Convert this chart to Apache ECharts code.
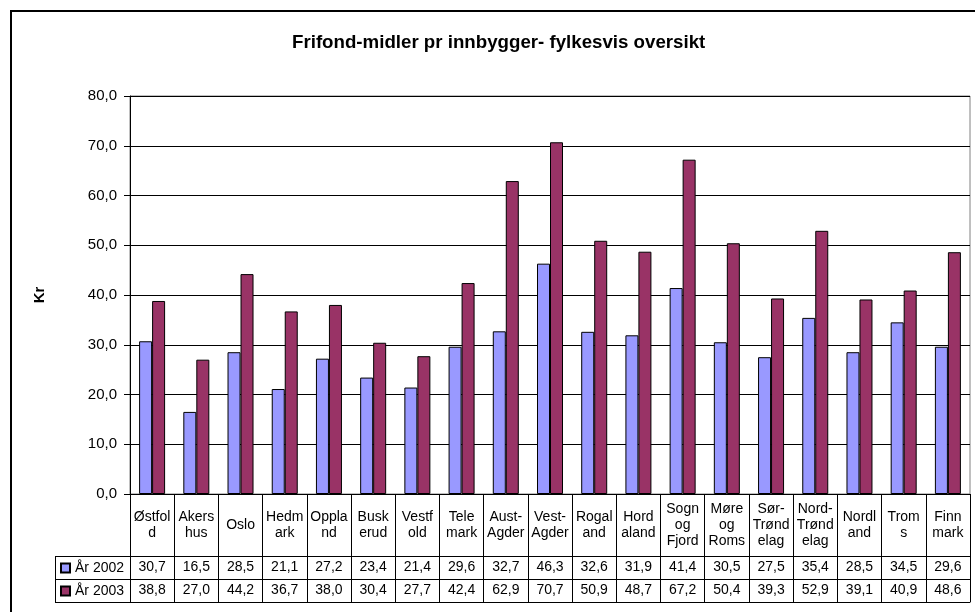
<!DOCTYPE html>
<html>
<head>
<meta charset="utf-8">
<script src="https://cdn.jsdelivr.net/npm/echarts@6/dist/echarts.min.js"></script>
<style>
html,body{margin:0;padding:0;background:#fff;}
#chart{width:975px;height:612px;}
</style>
</head>
<body>
<div id="chart"></div>
<script>
const titleText = 'Frifond-midler pr innbygger- fylkesvis oversikt';
const yAxisName = 'Kr';
const categories = ['Østfol\nd','Akers\nhus','Oslo','Hedm\nark','Oppla\nnd','Busk\nerud','Vestf\nold','Tele\nmark','Aust-\nAgder','Vest-\nAgder','Rogal\nand','Hord\naland','Sogn\nog\nFjord','Møre\nog\nRoms','Sør-\nTrønd\nelag','Nord-\nTrønd\nelag','Nordl\nand','Trom\ns','Finn\nmark'];
const seriesNames = ['År 2002','År 2003'];
const values2002 = [30.7,16.5,28.5,21.1,27.2,23.4,21.4,29.6,32.7,46.3,32.6,31.9,41.4,30.5,27.5,35.4,28.5,34.5,29.6];
const values2003 = [38.8,27.0,44.2,36.7,38.0,30.4,27.7,42.4,62.9,70.7,50.9,48.7,67.2,50.4,39.3,52.9,39.1,40.9,48.6];
const yMin = 0, yMax = 80, yInterval = 10;

const FONT = '"Liberation Sans", Arial, sans-serif';
const fmt = v => v.toFixed(1).replace('.', ',');
const chart = echarts.init(document.getElementById('chart'), null, {renderer: 'canvas'});

const tableAxis = (data, offset, tickLen, showLabel) => ({
  type: 'category', gridIndex: 0, position: 'bottom', offset: offset,
  data: data,
  axisLine: {show: true, lineStyle: {color: '#000', width: 1}},
  axisTick: {show: tickLen > 0, length: tickLen, lineStyle: {color: '#000', width: 1}},
  axisLabel: {show: showLabel, interval: 0, margin: 4, fontSize: 14, color: '#000', fontFamily: FONT},
  splitLine: {show: false}
});

chart.setOption({
  animation: false,
  backgroundColor: '#fff',
  textStyle: {fontFamily: FONT},
  title: {
    text: titleText, left: 292, top: 33, padding: 0,
    textStyle: {fontSize: 18.7, fontWeight: 'bold', color: '#000', fontFamily: FONT}
  },
  legend: {
    data: seriesNames, orient: 'vertical', left: 60, top: 561, padding: 0,
    itemWidth: 9, itemHeight: 9, itemGap: 9, icon: 'rect',
    textStyle: {fontSize: 14, lineHeight: 14, color: '#000', fontFamily: FONT}
  },
  grid: {
    left: 130, right: 5, top: 96, bottom: 118, containLabel: false,
    show: true, borderColor: '#808080', borderWidth: 1, backgroundColor: 'transparent'
  },
  xAxis: [
    {
      type: 'category', gridIndex: 0, position: 'bottom', data: categories,
      axisLine: {show: true, lineStyle: {color: '#000', width: 1}},
      axisTick: {show: true, length: 62, lineStyle: {color: '#000', width: 1}},
      axisLabel: {interval: 0, margin: 31, verticalAlign: 'middle', fontSize: 14, lineHeight: 16, color: '#000', fontFamily: FONT},
      splitLine: {show: false}
    },
    tableAxis(values2002.map(fmt), 62, 23, true),
    tableAxis(values2003.map(fmt), 85, 23, true),
    tableAxis(categories, 108, 0, false)
  ],
  yAxis: {
    type: 'value', min: yMin, max: yMax, interval: yInterval,
    name: yAxisName, nameLocation: 'middle', nameGap: 83, nameRotate: 90,
    nameTextStyle: {fontSize: 15, fontWeight: 'bold', color: '#000', fontFamily: FONT},
    axisLine: {show: true, lineStyle: {color: '#000', width: 1}},
    axisTick: {show: true, length: 6, lineStyle: {color: '#000'}},
    axisLabel: {margin: 13, fontSize: 15, color: '#000', fontFamily: FONT, formatter: fmt},
    splitLine: {show: true, lineStyle: {color: '#000', width: 1}}
  },
  series: [
    {name: seriesNames[0], type: 'bar', xAxisIndex: 0, data: values2002, barWidth: 13, barGap: '0%',
     itemStyle: {color: '#9999FF', borderColor: '#000', borderWidth: 1}},
    {name: seriesNames[1], type: 'bar', xAxisIndex: 0, data: values2003, barWidth: 13, barGap: '0%',
     itemStyle: {color: '#993366', borderColor: '#000', borderWidth: 1}}
  ],
  graphic: [
    {type: 'rect', shape: {x: 11, y: 11, width: 1000, height: 700}, style: {fill: 'none', stroke: '#000', lineWidth: 2}, z: 100, silent: true},
    {type: 'line', shape: {x1: 55, y1: 556.5, x2: 130, y2: 556.5}, style: {stroke: '#000', lineWidth: 1}, silent: true},
    {type: 'line', shape: {x1: 55, y1: 579.5, x2: 130, y2: 579.5}, style: {stroke: '#000', lineWidth: 1}, silent: true},
    {type: 'line', shape: {x1: 55, y1: 602.5, x2: 130, y2: 602.5}, style: {stroke: '#000', lineWidth: 1}, silent: true},
    {type: 'line', shape: {x1: 55.5, y1: 556, x2: 55.5, y2: 603}, style: {stroke: '#000', lineWidth: 1}, silent: true}
  ]
});
</script>
</body>
</html>
